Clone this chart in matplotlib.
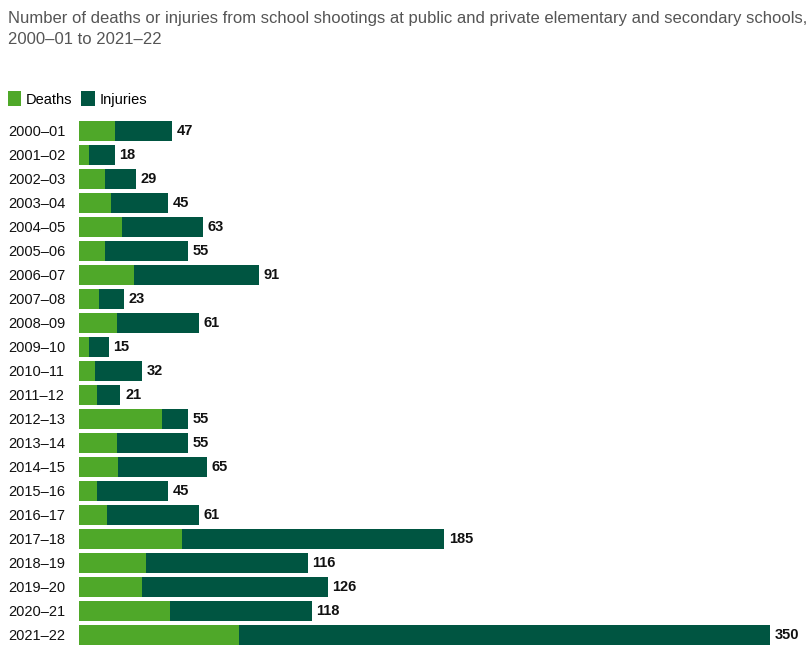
import numpy as np
import matplotlib.pyplot as plt

# --------------------------------------------------------------------------------------------------

years = ['2000–01', '2001–02', '2002–03', '2003–04', '2004–05', '2005–06', '2006–07',
         '2007–08', '2008–09', '2009–10', '2010–11', '2011–12', '2012–13', '2013–14',
         '2014–15', '2015–16', '2016–17', '2017–18', '2018–19', '2019–20', '2020–21',
         '2021–22']
totals = [47, 18, 29, 45, 63, 55, 91, 23, 61, 15, 32, 21, 55, 55, 65, 45, 61, 185, 116, 126,
          118, 350]
deaths = [18, 5, 13, 16, 22, 13, 28, 10, 19, 5, 8, 9, 42, 19, 20, 9, 14, 52, 34, 32, 46, 81]

injuries = [t - d for t, d in zip(totals, deaths)]

light = '#4fa829'
dark = '#005541'

plt.rcParams['font.family'] = ['Liberation Sans', 'DejaVu Sans']

fig = plt.figure(figsize=(8.1, 6.48), dpi=100)
W, H = 810, 648
ax = fig.add_axes([79/W, 1-647/H, (770-79)/W, 528/H])

y = np.arange(len(years))
ax.barh(y, deaths, height=0.83, color=light, label='Deaths')
ax.barh(y, injuries, left=deaths, height=0.83, color=dark, label='Injuries')

for yi, t in zip(y, totals):
    ax.text(t + 2.3, yi, str(t), va='center', ha='left', fontsize=10.5, fontweight='bold',
            color='#111111', clip_on=False)

ax.set_xlim(0, 350)
ax.set_ylim(len(years)-0.5, -0.5)
ax.set_yticks(y)
ax.set_yticklabels(years, fontsize=10.5, color='#111111')
for lab in ax.get_yticklabels():
    lab.set_horizontalalignment('left')
# pad is in points: 71 px at 100 dpi
ax.tick_params(axis='y', length=0, pad=71*0.72)
ax.set_xticks([])
for s in ['top', 'bottom', 'left', 'right']:
    ax.spines[s].set_visible(False)

fig.text(8/W, 1-19/H, 'Number of deaths or injuries from school shootings at public and private '
         'elementary and secondary schools,', fontsize=12, color='#555555', va='center')
fig.text(8/W, 1-40/H, '2000–01 to 2021–22', fontsize=12, color='#555555', va='center')

ax.legend(loc='center left', bbox_to_anchor=(8/W, 1-99/H), bbox_transform=fig.transFigure,
          ncol=2, frameon=False, handlelength=0.9, handleheight=1.2, handletextpad=0.35,
          columnspacing=0.6, fontsize=10.5, borderpad=0, borderaxespad=0)

fig.savefig('out.png', dpi=100)
